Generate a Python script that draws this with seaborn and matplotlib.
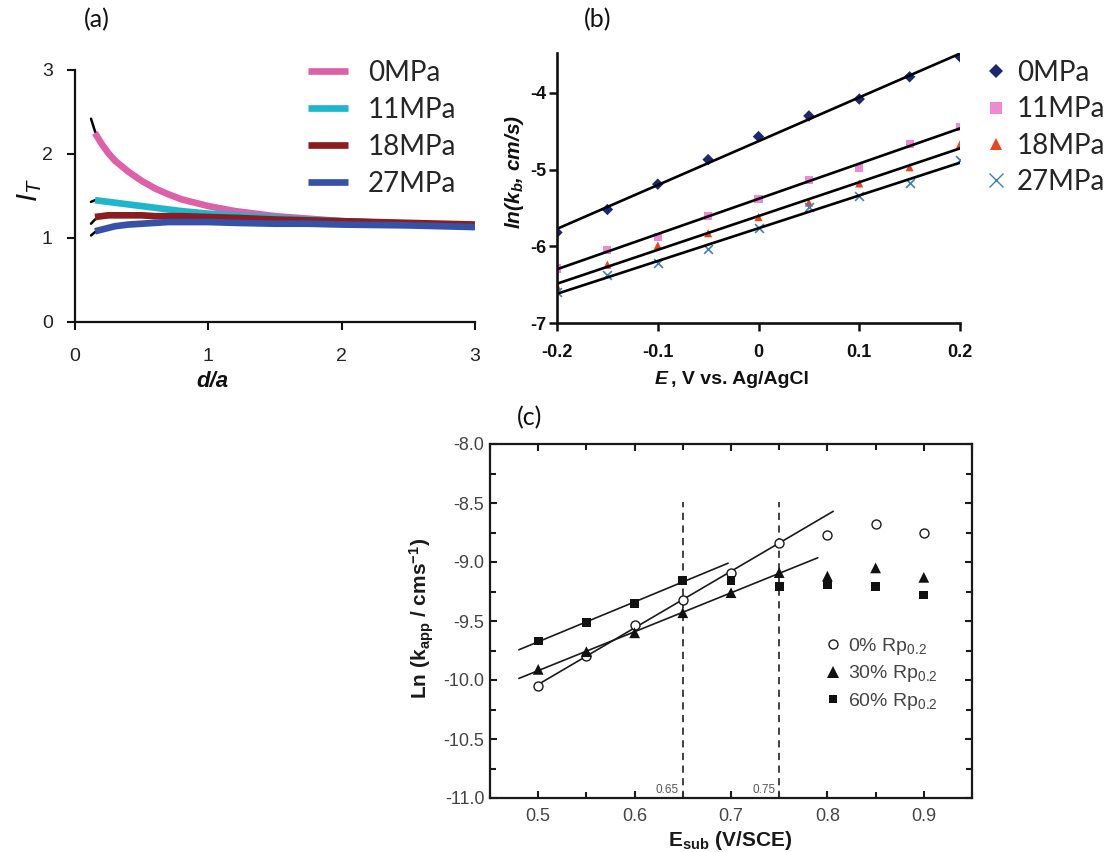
import numpy as np
import pandas as pd
import matplotlib
matplotlib.use("Agg")
import matplotlib.pyplot as plt
import seaborn as sns
from matplotlib.ticker import FixedLocator, FixedFormatter, MultipleLocator
from matplotlib.lines import Line2D

# ---------------- data: panel (a) ----------------
d_a = [0.15, 0.2, 0.25, 0.3, 0.4, 0.5, 0.6, 0.7, 0.8, 1.0, 1.2, 1.5, 1.75, 2.0, 2.5, 3.0]
IT_0 = [2.25, 2.12, 2.01, 1.92, 1.79, 1.68, 1.59, 1.52, 1.46, 1.38, 1.32, 1.26, 1.23, 1.20, 1.17, 1.15]
IT_11 = [1.45, 1.44, 1.43, 1.42, 1.40, 1.38, 1.36, 1.34, 1.32, 1.29, 1.27, 1.24, 1.22, 1.20, 1.17, 1.15]
IT_18 = [1.25, 1.26, 1.27, 1.27, 1.27, 1.27, 1.26, 1.26, 1.26, 1.25, 1.24, 1.22, 1.21, 1.20, 1.18, 1.16]
IT_27 = [1.08, 1.10, 1.12, 1.14, 1.16, 1.17, 1.18, 1.19, 1.19, 1.19, 1.18, 1.17, 1.17, 1.16, 1.15, 1.13]
d_fit = [0.12, 0.15, 0.2]
fit_0 = [2.42, 2.27, 2.13]
fit_11 = [1.43, 1.45, 1.44]
fit_18 = [1.17, 1.22, 1.26]
fit_27 = [1.03, 1.07, 1.10]
labels_p = ["0MPa", "11MPa", "18MPa", "27MPa"]
colors_a = ["#DD60A8", "#1EB6CA", "#8C1C1E", "#3552A6"]
ticks_a = [0, 1, 2, 3]

# ---------------- data: panel (b) ----------------
E_b = [-0.2, -0.15, -0.1, -0.05, 0.0, 0.05, 0.1, 0.15, 0.2]
lnk_0 = [-5.82, -5.52, -5.19, -4.87, -4.57, -4.30, -4.08, -3.79, -3.53]
lnk_11 = [-6.29, -6.05, -5.88, -5.60, -5.38, -5.13, -4.98, -4.67, -4.45]
lnk_18 = [-6.52, -6.24, -5.99, -5.83, -5.62, -5.43, -5.18, -4.97, -4.67]
lnk_27 = [-6.60, -6.38, -6.22, -6.04, -5.76, -5.49, -5.34, -5.17, -4.88]
colors_b = ["#1C2870", "#F088D8", "#E8441E", "#3A80C4"]
markers_b = ["D", "s", "^", "x"]
xt_b = [-0.2, -0.1, 0.0, 0.1, 0.2]
xtl_b = ["-0.2", "-0.1", "0", "0.1", "0.2"]
yt_b = [-7, -6, -5, -4]
ytl_b = ["-7", "-6", "-5", "-4"]

# ---------------- data: panel (c) ----------------
E_c = [0.5, 0.55, 0.6, 0.65, 0.7, 0.75, 0.8, 0.85, 0.9]
ln_0 = [-10.05, -9.80, -9.53, -9.32, -9.09, -8.84, -8.77, -8.68, -8.75]
ln_30 = [-9.91, -9.76, -9.60, -9.43, -9.26, -9.09, -9.12, -9.05, -9.13]
ln_60 = [-9.67, -9.51, -9.35, -9.16, -9.16, -9.21, -9.19, -9.21, -9.28]
labels_c = ["0% Rp$_{0.2}$", "30% Rp$_{0.2}$", "60% Rp$_{0.2}$"]
fit_n_c = [6, 6, 4]              # number of leading points used in each fit
fit_span_c = [(0.5, 0.806), (0.48, 0.79), (0.48, 0.697)]
vlines_c = [0.65, 0.75]
xt_c = [0.5, 0.6, 0.7, 0.8, 0.9]
xtl_c = ["0.5", "0.6", "0.7", "0.8", "0.9"]
yt_c = [-11.0, -10.5, -10.0, -9.5, -9.0, -8.5, -8.0]
ytl_c = ["-11.0", "-10.5", "-10.0", "-9.5", "-9.0", "-8.5", "-8.0"]

# ---------------- style ----------------
sns.set_theme(style="ticks")
plt.rcParams["font.family"] = ["Liberation Sans", "DejaVu Sans"]
plt.rcParams["axes.unicode_minus"] = False
plt.rcParams["mathtext.default"] = "regular"

W, H = 1107, 852
fig = plt.figure(figsize=(W / 100, H / 100), dpi=100)
fig.patch.set_facecolor("white")

def fx(x):
    return x / W

def fy(y):
    return 1 - y / H

# ---------------- panel (a) ----------------
ax_a = fig.add_axes([fx(75), fy(322), 400 / W, 252 / H])
for fv in [fit_0, fit_11, fit_18, fit_27]:
    sns.lineplot(x=d_fit, y=fv, ax=ax_a, color="black", lw=1.8, sort=False)
for vals, c, lab in zip([IT_0, IT_11, IT_18, IT_27], colors_a, labels_p):
    sns.lineplot(x=d_a, y=vals, ax=ax_a, color=c, lw=4.8, label=lab, sort=False,
                 solid_capstyle="butt")
ax_a.set_xlim(0, 3)
ax_a.set_ylim(0, 3)
ax_a.xaxis.set_major_locator(FixedLocator(ticks_a))
ax_a.yaxis.set_major_locator(FixedLocator(ticks_a))
ax_a.set_xlabel("")
ax_a.set_ylabel("")
for s in ["top", "right"]:
    ax_a.spines[s].set_visible(False)
for s in ["left", "bottom"]:
    ax_a.spines[s].set_linewidth(1.6)
    ax_a.spines[s].set_color("#111111")
ax_a.tick_params(axis="both", direction="out", length=6, width=1.5, labelsize=14,
                 labelcolor="#222222", color="#111111")
ax_a.tick_params(axis="x", pad=13)
ax_a.tick_params(axis="y", pad=10)
hand_a = [Line2D([0], [0], color=c, lw=4.8, solid_capstyle="butt") for c in colors_a]
ax_a.legend(hand_a, labels_p, loc="upper left", bbox_to_anchor=(fx(308), fy(60)),
            bbox_transform=fig.transFigure, frameon=False,
            prop={"family": "Lato", "size": 20}, handlelength=1.45, handletextpad=0.7,
            labelspacing=0.39, borderpad=0, borderaxespad=0)

fig.text(fx(30), fy(190), "I$_T$", rotation=90, ha="center", va="center",
         fontsize=21, style="italic", color="#111111")
fig.text(fx(212), fy(382), "d/a", ha="center", va="center", fontsize=16,
         style="italic", weight="bold", color="#111111")
fig.text(fx(97), fy(20), "(a)", ha="center", va="center", fontsize=18,
         family="Lato", color="#111111")

# ---------------- panel (b) ----------------
ax_b = fig.add_axes([fx(557), fy(323), 403 / W, 270 / H])
for vals in [lnk_0, lnk_11, lnk_18, lnk_27]:
    p = np.polyfit(E_b, vals, 1)
    xs = [E_b[0], E_b[-1]]
    sns.lineplot(x=xs, y=np.polyval(p, xs), ax=ax_b, color="black", lw=1.9)
for vals, c, m, lab in zip([lnk_0, lnk_11, lnk_18, lnk_27], colors_b, markers_b, labels_p):
    if m == "x":
        sns.scatterplot(x=E_b, y=vals, ax=ax_b, marker=m, color=c, s=40,
                        linewidth=1.2, label=lab)
    else:
        sns.scatterplot(x=E_b, y=vals, ax=ax_b, marker=m, color=c, s=34,
                        edgecolor="none", label=lab)
ax_b.set_xlim(-0.2, 0.2)
ax_b.set_ylim(-7, -3.48)
ax_b.xaxis.set_major_locator(FixedLocator(xt_b))
ax_b.xaxis.set_major_formatter(FixedFormatter(xtl_b))
ax_b.yaxis.set_major_locator(FixedLocator(yt_b))
ax_b.yaxis.set_major_formatter(FixedFormatter(ytl_b))
ax_b.set_xlabel("")
ax_b.set_ylabel("")
for s in ["top", "right"]:
    ax_b.spines[s].set_visible(False)
for s in ["left", "bottom"]:
    ax_b.spines[s].set_linewidth(1.9)
    ax_b.spines[s].set_color("#111111")
ax_b.tick_params(axis="both", direction="out", length=6, width=1.8, labelsize=13,
                 color="#111111", labelcolor="#111111")
ax_b.tick_params(axis="x", pad=9)
ax_b.tick_params(axis="y", pad=2)
for t in ax_b.get_xticklabels() + ax_b.get_yticklabels():
    t.set_fontweight("bold")
hand_b = []
for c, m in zip(colors_b, markers_b):
    if m == "x":
        hand_b.append(Line2D([0], [0], marker=m, color=c, ls="none", markersize=10,
                             markeredgewidth=1.0))
    else:
        hand_b.append(Line2D([0], [0], marker=m, color=c, ls="none",
                             markersize=8 if m != "D" else 7, markeredgewidth=0))
ax_b.legend(hand_b, labels_p, loc="upper left", bbox_to_anchor=(fx(985), fy(60)),
            bbox_transform=fig.transFigure, frameon=False,
            prop={"family": "Lato", "size": 20}, handlelength=0.8, handletextpad=0.35,
            labelspacing=0.37, borderpad=0, borderaxespad=0)

fig.text(fx(514), fy(172), "ln(k$_b$, cm/s)", rotation=90, ha="center", va="center",
         fontsize=15, style="italic", weight="bold", color="#111111")
fig.text(fx(668), fy(380), "E", ha="right", va="center", fontsize=14,
         style="italic", weight="bold", color="#111111")
fig.text(fx(671), fy(380), ", V vs. Ag/AgCl", ha="left", va="center", fontsize=14,
         weight="bold", color="#111111")
fig.text(fx(598), fy(20), "(b)", ha="center", va="center", fontsize=18,
         family="Lato", color="#111111")

# ---------------- panel (c) ----------------
ax_c = fig.add_axes([fx(490), fy(798), 482 / W, 354 / H])
for vals, n, (x0, x1) in zip([ln_0, ln_30, ln_60], fit_n_c, fit_span_c):
    p = np.polyfit(E_c[:n], vals[:n], 1)
    xs = [x0, x1]
    sns.lineplot(x=xs, y=np.polyval(p, xs), ax=ax_c, color="#1a1a1a", lw=1.2)
ax_c.vlines(vlines_c, -11, -8.49, colors="#333333", linestyles=(0, (4, 3)), lw=1.3)
sns.scatterplot(x=E_c, y=ln_0, ax=ax_c, marker="o", s=42, facecolor="white",
                edgecolor="#1a1a1a", linewidth=1.0, label=labels_c[0], zorder=4)
sns.scatterplot(x=E_c, y=ln_30, ax=ax_c, marker="^", s=60, color="#111111",
                edgecolor="none", label=labels_c[1], zorder=4)
sns.scatterplot(x=E_c, y=ln_60, ax=ax_c, marker="s", s=40, color="#111111",
                edgecolor="none", label=labels_c[2], zorder=4)
for v in vlines_c:
    ax_c.text(v - 0.004, -10.93, f"{v:.2f}", ha="right", va="center", fontsize=8.5,
              color="#555555")
ax_c.set_xlim(0.45, 0.95)
ax_c.set_ylim(-11, -8)
ax_c.xaxis.set_major_locator(FixedLocator(xt_c))
ax_c.xaxis.set_major_formatter(FixedFormatter(xtl_c))
ax_c.xaxis.set_minor_locator(MultipleLocator(0.05))
ax_c.yaxis.set_major_locator(FixedLocator(yt_c))
ax_c.yaxis.set_major_formatter(FixedFormatter(ytl_c))
ax_c.yaxis.set_minor_locator(MultipleLocator(0.25))
ax_c.set_xlabel("")
ax_c.set_ylabel("")
for s in ax_c.spines.values():
    s.set_visible(True)
    s.set_linewidth(1.6)
    s.set_color("#1a1a1a")
ax_c.tick_params(which="both", direction="in", top=True, right=True, width=1.5,
                 color="#1a1a1a", labelsize=13, labelcolor="#444444")
ax_c.tick_params(which="major", length=5)
ax_c.tick_params(which="minor", length=4)
ax_c.tick_params(axis="x", which="both", pad=7)
ax_c.tick_params(axis="y", which="both", pad=4)
hand_c = [
    Line2D([0], [0], marker="o", ls="none", markerfacecolor="white",
           markeredgecolor="#1a1a1a", markersize=6.5, markeredgewidth=1.0),
    Line2D([0], [0], marker="^", ls="none", color="#111111", markersize=8,
           markeredgewidth=0),
    Line2D([0], [0], marker="s", ls="none", color="#111111", markersize=6,
           markeredgewidth=0),
]
leg_c = ax_c.legend(hand_c, labels_c, loc="upper left", bbox_to_anchor=(fx(826), fy(636)),
                    bbox_transform=fig.transFigure, frameon=False, fontsize=14,
                    handlelength=0.7, handletextpad=0.45, labelspacing=0.33,
                    borderpad=0, borderaxespad=0)
for t in leg_c.get_texts():
    t.set_color("#444444")

fig.text(fx(422), fy(618), "Ln (k$_{app}$ / cms$^{-1}$)", rotation=90, ha="center",
         va="center", fontsize=15, weight="bold", color="#1a1a1a")
fig.text(fx(730), fy(840), "E$_{sub}$ (V/SCE)", ha="center", va="center",
         fontsize=15, weight="bold", color="#1a1a1a")
fig.text(fx(530), fy(418), "(c)", ha="center", va="center", fontsize=18,
         family="Lato", color="#111111")

fig.savefig("out.png", dpi=100, facecolor="white")
